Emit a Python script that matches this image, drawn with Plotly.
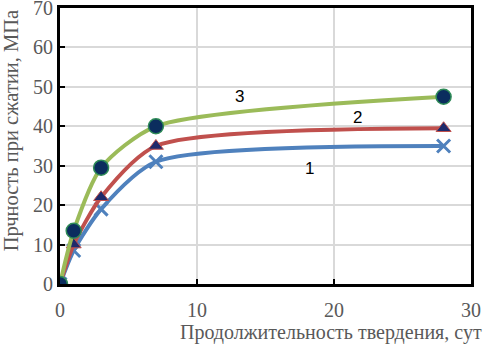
import plotly.graph_objects as go

days = [0, 1, 3, 7, 28]
s1 = [0, 8.5, 19, 31, 35]
s2 = [0, 10, 22, 35, 39.5]
s3 = [0, 13.5, 29.5, 40, 47.5]
labels = ["1", "2", "3"]
label_x = [18.2, 21.7, 13.1]
label_y = [29.4, 42.2, 47.6]
x_title = "Продолжительность твердения, сут"
y_title = "Прчность при сжатии, МПа"

serif = "Liberation Serif"
gray = "#595959"
sm = 0.7
fig = go.Figure()
fig.add_trace(go.Scatter(x=days, y=s1, mode="lines+markers", line=dict(color="#4f81bd", width=4, shape="spline", smoothing=sm),
                         marker=dict(symbol="x-thin", size=13, line=dict(color="#4f81bd", width=3))))
fig.add_trace(go.Scatter(x=days, y=s2, mode="lines+markers", line=dict(color="#c0504d", width=4, shape="spline", smoothing=sm),
                         marker=dict(symbol="triangle-up", size=13, color="#1f2a6b", line=dict(color="#c0504d", width=1))))
fig.add_trace(go.Scatter(x=days, y=s3, mode="lines+markers", line=dict(color="#9bbb59", width=4, shape="spline", smoothing=sm),
                         marker=dict(symbol="circle", size=15, color="#0b2d5e", line=dict(color="#2e8b57", width=1.5))))
for t, x, y in zip(labels, label_x, label_y):
    fig.add_annotation(x=x, y=y, text=t, showarrow=False, font=dict(family="Liberation Sans", size=17, color="black"))

fig.add_annotation(xref="paper", yref="paper", x=0.66, y=-0.175, xanchor="center", yanchor="middle",
                   text=x_title, showarrow=False, font=dict(family=serif, size=20, color=gray))
fig.add_annotation(xref="paper", yref="paper", x=-0.118, y=0.555, xanchor="center", yanchor="middle", textangle=-90,
                   text=y_title, showarrow=False, font=dict(family=serif, size=20.5, color=gray))

axis_common = dict(showgrid=True, gridcolor="#d9d9d9", gridwidth=1.5,
                   showline=True, linecolor="black", linewidth=3, mirror=True,
                   ticks="inside", ticklen=5, tickwidth=2, tickcolor="black", zeroline=False,
                   automargin=False, ticklabeloverflow="allow",
                   tickfont=dict(family=serif, size=20, color=gray))
fig.update_layout(
    width=488, height=345, showlegend=False,
    margin=dict(l=60, r=17, t=8, b=61),
    plot_bgcolor="white", paper_bgcolor="white",
    xaxis=dict(range=[0, 30], dtick=10, ticklabelstandoff=6, **axis_common),
    yaxis=dict(range=[0, 70.001], dtick=10, **axis_common),
)
fig.write_html("out.html", config={"displayModeBar": False},
               post_script="document.body.style.margin='0';")
